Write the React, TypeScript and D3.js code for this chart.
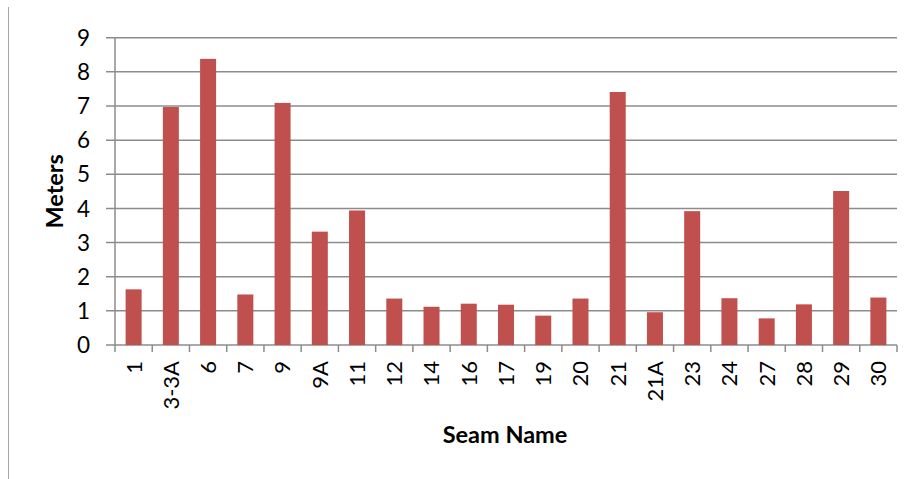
import React from "react";
import * as d3 from "d3";

const categories = ["1","3-3A","6","7","9","9A","11","12","14","16","17","19","20","21","21A","23","24","27","28","29","30"];
const values = [1.63,6.97,8.38,1.48,7.09,3.32,3.94,1.36,1.12,1.21,1.18,0.86,1.36,7.41,0.96,3.92,1.37,0.78,1.19,4.51,1.39];
const yTicks = [0,1,2,3,4,5,6,7,8,9];
const xTitle = "Seam Name";
const yTitle = "Meters";

const W = 915, H = 479;
const left = 115, right = 897, top = 37.7, bottom = 345;
const font = "Lato, 'Open Sans', sans-serif";

export default function App() {
  const x = d3.scaleBand<string>().domain(categories).range([left, right]).paddingInner(0.57).paddingOuter(0.285);
  const xb = d3.scaleBand<string>().domain(categories).range([left, right]);
  const y = d3.scaleLinear().domain([0, 9]).range([bottom, top]);
  const grid = "#8c8c8c";
  return (
    <svg width={W} height={H} style={{ position: "absolute", left: 0, top: 0, background: "#fff" }}>
      <line x1={8.5} x2={8.5} y1={7} y2={H} stroke="#a6a6a6" strokeWidth={1} />
      {yTicks.map((t) => (
        <g key={t}>
          <line x1={left - 9} x2={right} y1={y(t)} y2={y(t)} stroke={grid} strokeWidth={1.5} />
          <text x={90} y={y(t)} dy="0.36em" textAnchor="end" fontFamily={font} fontSize={22.5} fill="#000">{t}</text>
        </g>
      ))}
      <line x1={left} x2={left} y1={top} y2={bottom} stroke={grid} strokeWidth={1.5} />
      {categories.map((c, i) => (
        <line key={"t" + i} x1={xb(c)!} x2={xb(c)!} y1={bottom} y2={bottom + 7} stroke={grid} strokeWidth={1.5} />
      ))}
      <line x1={right} x2={right} y1={bottom} y2={bottom + 7} stroke={grid} strokeWidth={1.5} />
      {categories.map((c, i) => (
        <rect key={c} x={x(c)!} width={x.bandwidth()} y={y(values[i])} height={bottom - y(values[i])} fill="#c0504d" />
      ))}
      {categories.map((c) => {
        const cx = xb(c)! + xb.bandwidth() / 2;
        return (
          <text key={"l" + c} transform={`translate(${cx},${bottom + 16}) rotate(-90)`} dy="0.36em" textAnchor="end" fontFamily={font} fontSize={22} fill="#000">{c}</text>
        );
      })}
      <text x={505} y={443} textAnchor="middle" fontFamily={font} fontSize={23.5} fontWeight="bold" fill="#000">{xTitle}</text>
      <text transform={`translate(63,${(top + bottom) / 2}) rotate(-90)`} textAnchor="middle" fontFamily={font} fontSize={23.5} fontWeight="bold" fill="#000">{yTitle}</text>
    </svg>
  );
}
